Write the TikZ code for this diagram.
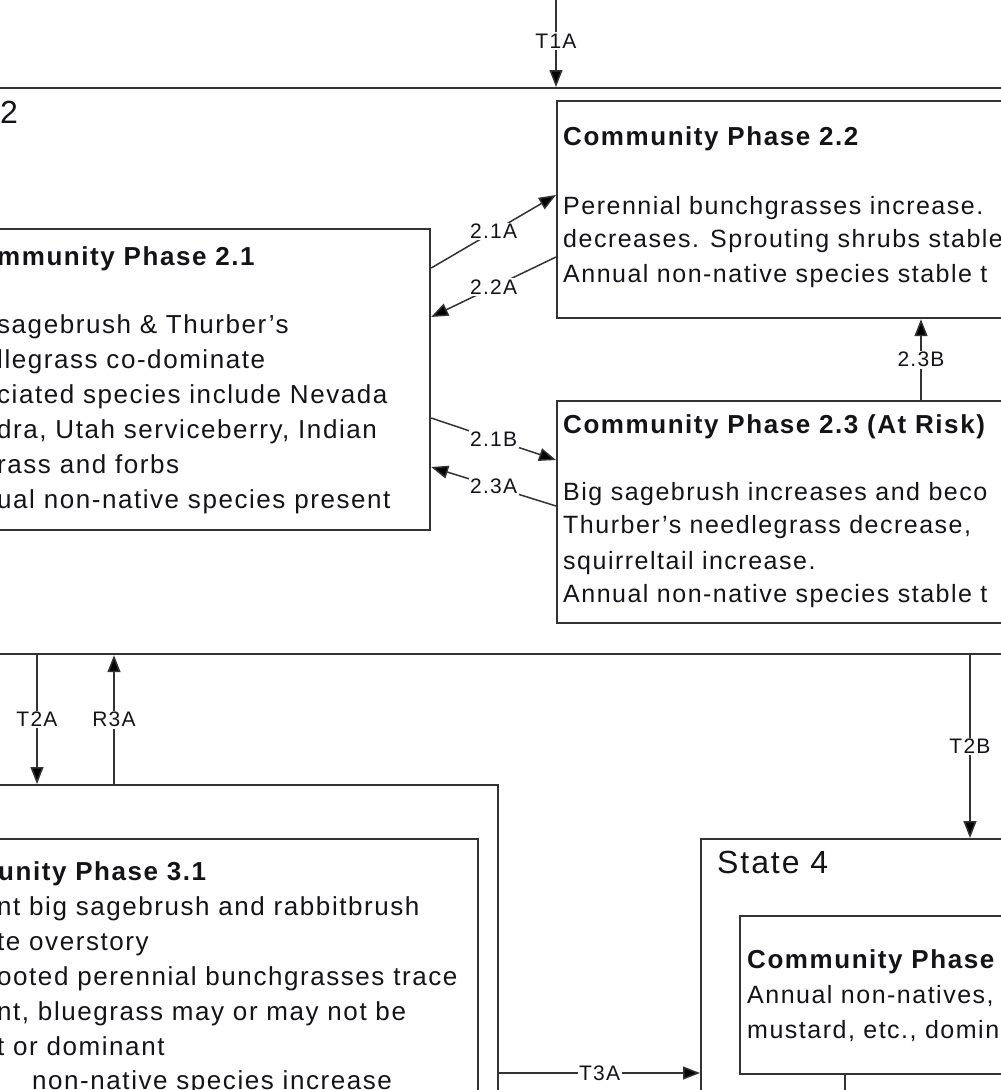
\documentclass[tikz,border=0pt]{standalone}
\usepackage{fontspec}
\setmainfont{Liberation Sans}
\newfontfamily\bodyfont[LetterSpace=6]{Liberation Sans}
\usetikzlibrary{arrows.meta}
\definecolor{ln}{HTML}{333333}
\definecolor{tx}{HTML}{141418}
\begin{document}
\begin{tikzpicture}[x=1pt,y=-1pt,
  box/.style={draw=ln, line width=2.2pt, rectangle, anchor=north west, inner sep=0pt},
  conn/.style={draw=ln, line width=1.5pt, -{Triangle[length=17pt,width=13pt,fill=black]}},
  plainline/.style={draw=ln, line width=1.5pt},
  lbl/.style={fill=white, inner sep=1.5pt, text=tx, font=\bodyfont\fontsize{21}{22}\selectfont},
  body/.style={anchor=base west, inner sep=0pt, text=tx, font=\bodyfont\fontsize{25}{28}\selectfont},
  bodyl/.style={anchor=base west, inner sep=0pt, text=tx, font=\bodyfont\fontsize{26}{28}\selectfont},
  title/.style={anchor=base west, inner sep=0pt, text=tx, font=\bodyfont\bfseries\fontsize{26}{28}\selectfont},
  statelbl/.style={anchor=base west, inner sep=0pt, text=tx, font=\bodyfont\fontsize{32}{34}\selectfont}
]
\useasboundingbox (0,0) rectangle (1001,1090);
\clip (0,0) rectangle (1001,1090);
\fill[white] (0,0) rectangle (1001,1090);

% boxes
\node[box, minimum width=1100pt, minimum height=566pt] (S2) at (-40,87) {};
\node[box, minimum width=600pt, minimum height=217pt] (CP22) at (556,100) {};
\node[box, minimum width=600pt, minimum height=222pt] (CP23) at (556,400) {};
\node[box, minimum width=529pt, minimum height=301pt] (CP21) at (-100,228) {};
\node[box, minimum width=537pt, minimum height=400pt] (S3) at (-40,784) {};
\node[box, minimum width=577pt, minimum height=400pt] (CP31) at (-100,838) {};
\node[box, minimum width=400pt, minimum height=400pt] (S4) at (700,838) {};
\node[box, minimum width=400pt, minimum height=158pt] (CP41) at (739,915) {};

% free ends
\coordinate (top) at (556,-5);
\coordinate (bot) at (845,1100);

% connectors
\draw[conn] (top) -- node[lbl] (lT1A) {T1A} ([xshift=596pt]S2.north west);
\draw[conn] ([yshift=-40pt]CP21.north east) -- node[lbl] (l21A) {2.1A} ([yshift=-95pt]CP22.north west);
\draw[conn] ([yshift=-157pt]CP22.north west) -- node[lbl] (l22A) {2.2A} ([yshift=-89pt]CP21.north east);
\draw[conn] ([yshift=-190pt]CP21.north east) -- node[lbl] (l21B) {2.1B} ([yshift=-60pt]CP23.north west);
\draw[conn] ([yshift=-106pt]CP23.north west) -- node[lbl] (l23A) {2.3A} ([yshift=-239pt]CP21.north east);
\draw[conn] ([xshift=365pt]CP23.north west) -- node[lbl] (l23B) {2.3B} ([xshift=365pt]CP22.south west);
\draw[conn] ([xshift=77pt]S2.south west) -- node[lbl] (lT2A) {T2A} ([xshift=77pt]S3.north west);
\draw[conn] ([xshift=154pt]S3.north west) -- node[lbl] (lR3A) {R3A} ([xshift=154pt]S2.south west);
\draw[conn] ([xshift=1010pt]S2.south west) -- node[lbl] (lT2B) {T2B} ([xshift=270pt]S4.north west);
\draw[conn] ([yshift=-289pt]S3.north east) -- node[lbl] (lT3A) {T3A} ([yshift=-235pt]S4.north west);
\draw[plainline] ([xshift=106pt]CP41.south west) -- (bot);

% state labels
\node[statelbl] (s2) at (0,123) {2};
\node[statelbl] (s4) at (717,873) {State 4};

% CP 2.2
\node[title] (t22) at (563,145) {Community Phase 2.2};
\node[body] (b22a) at (563,214) {Perennial bunchgrasses increase.};
\node[body] (b22b) at (563,247) {decreases. Sprouting shrubs stable};
\node[body] (b22c) at (563,282) {Annual non-native species stable t};

% CP 2.3
\node[title] (t23) at (563,433) {Community Phase 2.3 (At Risk)};
\node[body] (b23a) at (563,500) {Big sagebrush increases and beco};
\node[body] (b23b) at (563,533) {Thurber’s needlegrass decrease,};
\node[body] (b23c) at (563,569) {squirreltail increase.};
\node[body] (b23d) at (563,602) {Annual non-native species stable t};

% CP 2.1
\node[title] (t21) at (-3,265) {mmunity Phase 2.1};
\node[bodyl] (b21a) at (-3,333) {sagebrush \& Thurber’s};
\node[bodyl] (b21b) at (-3,368) {llegrass co-dominate};
\node[bodyl] (b21c) at (-3,403) {ciated species include Nevada};
\node[bodyl] (b21d) at (-3,438) {dra, Utah serviceberry, Indian};
\node[bodyl] (b21e) at (-3,473) {rass and forbs};
\node[bodyl] (b21f) at (-3,508) {ual non-native species present};

% CP 3.1
\node[title] (t31) at (-2,880) {unity Phase 3.1};
\node[bodyl] (b31a) at (-3,915) {nt big sagebrush and rabbitbrush};
\node[bodyl] (b31b) at (-3,950) {te overstory};
\node[bodyl] (b31c) at (-3,985) {ooted perennial bunchgrasses trace};
\node[bodyl] (b31d) at (-3,1020) {nt, bluegrass may or may not be};
\node[bodyl] (b31e) at (-3,1055) {t or dominant};
\node[bodyl] (b31f) at (32,1089) {non-native species increase};

% CP 4.1
\node[title] (t41) at (747,968) {Community Phase};
\node[body] (b41a) at (747,1003) {Annual non-natives,};
\node[body] (b41b) at (747,1038) {mustard, etc., domin};
\end{tikzpicture}
\end{document}
